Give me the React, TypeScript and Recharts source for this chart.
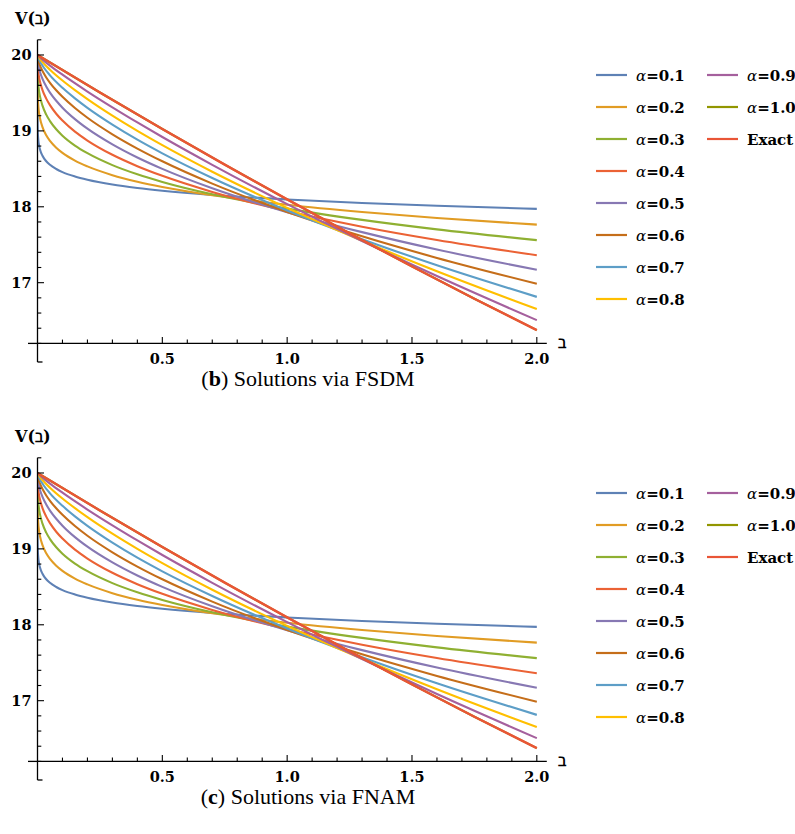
import React from 'react';
import { LineChart, Line, XAxis, YAxis, ReferenceLine, Legend } from 'recharts';

// ---- data ----
const T_A01 = [0, 0.000001, 0.0001, 0.001, 0.003, 0.006, 0.01, 0.02, 0.035, 0.05, 0.075, 0.1, 0.15, 0.2, 0.3, 0.4, 0.5, 0.7, 1.0, 1.3, 1.6, 2.0];
const V_A01 = [20, 19.485, 19.196, 18.998, 18.889, 18.813, 18.755, 18.672, 18.6, 18.553, 18.498, 18.457, 18.399, 18.356, 18.293, 18.248, 18.212, 18.156, 18.096, 18.05, 18.013, 17.973];

const T_A02 = [0, 0.000001, 0.0001, 0.001, 0.003, 0.006, 0.01, 0.02, 0.035, 0.05, 0.075, 0.1, 0.15, 0.2, 0.3, 0.4, 0.5, 0.7, 1.0, 1.3, 1.6, 2.0];
const V_A02 = [20, 19.863, 19.66, 19.467, 19.34, 19.245, 19.167, 19.049, 18.942, 18.868, 18.778, 18.71, 18.608, 18.532, 18.417, 18.331, 18.261, 18.151, 18.027, 17.931, 17.852, 17.765];

const T_A03 = [0, 0.00001, 0.0001, 0.001, 0.003, 0.006, 0.01, 0.02, 0.035, 0.05, 0.075, 0.1, 0.15, 0.2, 0.3, 0.4, 0.5, 0.7, 1.0, 1.3, 1.6, 2.0];
const V_A03 = [20, 19.93, 19.86, 19.723, 19.617, 19.53, 19.454, 19.332, 19.214, 19.129, 19.021, 18.937, 18.807, 18.706, 18.549, 18.428, 18.327, 18.164, 17.976, 17.827, 17.702, 17.561];

const T_A04 = [0, 0.0001, 0.001, 0.003, 0.006, 0.01, 0.02, 0.035, 0.05, 0.075, 0.1, 0.15, 0.2, 0.3, 0.4, 0.5, 0.7, 1.0, 1.3, 1.6, 2.0];
const V_A04 = [20, 19.944, 19.859, 19.781, 19.712, 19.648, 19.538, 19.425, 19.339, 19.226, 19.136, 18.99, 18.873, 18.685, 18.535, 18.408, 18.196, 17.944, 17.738, 17.563, 17.362];

const T_A05 = [0, 0.001, 0.003, 0.006, 0.01, 0.02, 0.035, 0.05, 0.075, 0.1, 0.15, 0.2, 0.3, 0.4, 0.5, 0.7, 1.0, 1.3, 1.6, 2.0];
const V_A05 = [20, 19.929, 19.877, 19.826, 19.776, 19.685, 19.585, 19.505, 19.397, 19.306, 19.155, 19.029, 18.822, 18.649, 18.499, 18.243, 17.929, 17.666, 17.437, 17.17];

const T_A06 = [0, 0.001, 0.005, 0.01, 0.02, 0.035, 0.05, 0.075, 0.1, 0.15, 0.2, 0.3, 0.4, 0.5, 0.7, 1.0, 1.3, 1.6, 2.0];
const V_A06 = [20, 19.965, 19.907, 19.859, 19.788, 19.704, 19.634, 19.535, 19.449, 19.301, 19.173, 18.955, 18.767, 18.599, 18.305, 17.932, 17.611, 17.326, 16.986];

const T_A07 = [0, 0.002, 0.01, 0.025, 0.05, 0.1, 0.15, 0.2, 0.3, 0.4, 0.5, 0.7, 1.0, 1.3, 1.6, 2.0];
const V_A07 = [20, 19.972, 19.913, 19.835, 19.732, 19.567, 19.428, 19.303, 19.082, 18.884, 18.704, 18.379, 17.951, 17.573, 17.23, 16.813];

const T_A08 = [0, 0.005, 0.02, 0.05, 0.1, 0.15, 0.2, 0.3, 0.4, 0.5, 0.7, 1.0, 1.3, 1.6, 2.0];
const V_A08 = [20, 19.969, 19.906, 19.806, 19.663, 19.536, 19.418, 19.2, 19.0, 18.812, 18.462, 17.986, 17.552, 17.15, 16.652];

const T_A09 = [0, 0.01, 0.05, 0.1, 0.2, 0.3, 0.4, 0.5, 0.7, 1.0, 1.3, 1.6, 2.0];
const V_A09 = [20, 19.967, 19.86, 19.74, 19.518, 19.31, 19.111, 18.919, 18.553, 18.035, 17.549, 17.087, 16.506];

const T_A10 = [0, 0.25, 0.5, 0.75, 1.0, 1.25, 1.5, 1.75, 2.0];
const V_A10 = [20, 19.506, 19.025, 18.555, 18.097, 17.65, 17.214, 16.789, 16.375];

const T_EXACT = [0, 0.25, 0.5, 0.75, 1.0, 1.25, 1.5, 1.75, 2.0];
const V_EXACT = [20, 19.506, 19.025, 18.555, 18.097, 17.65, 17.214, 16.789, 16.375];

const SERIES_NAMES = ['α=0.1', 'α=0.2', 'α=0.3', 'α=0.4', 'α=0.5', 'α=0.6', 'α=0.7', 'α=0.8', 'α=0.9', 'α=1.0', 'Exact'];
const SERIES_COLORS = ['#5E81B5', '#E19C24', '#8FB032', '#EB6235', '#8778B3', '#C56E1A', '#5D9EC7', '#FFBF00', '#A5609D', '#929600', '#E95536'];
const SERIES_T = [T_A01, T_A02, T_A03, T_A04, T_A05, T_A06, T_A07, T_A08, T_A09, T_A10, T_EXACT];
const SERIES_V = [V_A01, V_A02, V_A03, V_A04, V_A05, V_A06, V_A07, V_A08, V_A09, V_A10, V_EXACT];

const X_TICKS = [0.1, 0.2, 0.3, 0.4, 0.5, 0.6, 0.7, 0.8, 0.9, 1.0, 1.1, 1.2, 1.3, 1.4, 1.5, 1.6, 1.7, 1.8, 1.9, 2.0];
const X_LABELED = [0.5, 1.0, 1.5, 2.0];
const Y_TICKS = [16.2, 16.4, 16.6, 16.8, 17, 17.2, 17.4, 17.6, 17.8, 18, 18.2, 18.4, 18.6, 18.8, 19, 19.2, 19.4, 19.6, 19.8, 20, 20.2];
const Y_LABELED = [17, 18, 19, 20];

const CAPTIONS = [
  { letter: 'b', text: ' Solutions via FSDM' },
  { letter: 'c', text: ' Solutions via FNAM' },
];

const SERIES = SERIES_NAMES.map((name, i) => ({
  name,
  color: SERIES_COLORS[i],
  data: SERIES_T[i].map((t, j) => ({ t, v: SERIES_V[i][j] })),
}));

// ---- layout ----
const W = 795;
const H = 418;
const PLOT_LEFT = 37.5;
const PLOT_RIGHT = 546.8;
const PLOT_TOP = 39.8;
const PLOT_BOTTOM = 343.4;
const Y_AXIS_W = 30;
const X_AXIS_H = 30;
const TICK_FONT = 'DejaVu Serif';

const XTick = (p: any) => {
  const v = p.payload.value;
  const major = X_LABELED.some((m) => Math.abs(m - v) < 1e-6);
  return (
    <g>
      <line x1={p.x} x2={p.x} y1={p.y} y2={p.y - (major ? 6.5 : 3.8)} stroke="#000" strokeWidth={1.1} />
      {major && (
        <text x={p.x} y={p.y + 21} textAnchor="middle" fontFamily={TICK_FONT} fontWeight="bold" fontSize={14.5} fill="#000">
          {v.toFixed(1)}
        </text>
      )}
    </g>
  );
};

const YTick = (p: any) => {
  const v = p.payload.value;
  const major = Y_LABELED.some((m) => Math.abs(m - v) < 1e-6);
  return (
    <g>
      <line x1={p.x} x2={p.x + (major ? 6.5 : 3.8)} y1={p.y} y2={p.y} stroke="#000" strokeWidth={1.1} />
      {major && (
        <text x={p.x - 6} y={p.y + 5.5} textAnchor="end" fontFamily={TICK_FONT} fontWeight="bold" fontSize={14.5} fill="#000">
          {String(v)}
        </text>
      )}
    </g>
  );
};

const LegendBox = () => (
  <svg width={205} height={260} style={{ display: 'block', overflow: 'visible' }}>
    {SERIES.map((s, i) => {
      const col = i < 8 ? 0 : 1;
      const row = i < 8 ? i : i - 8;
      const cy = 15 + row * 32;
      const lx = col === 0 ? 6 : 117;
      const isAlpha = s.name.startsWith('α');
      return (
        <g key={s.name}>
          <line x1={lx} x2={lx + 31} y1={cy} y2={cy} stroke={s.color} strokeWidth={2.2} />
          <text x={lx + 40} y={cy + 5.5} fontFamily={TICK_FONT} fontWeight="bold" fontSize={15} fill="#000">
            {isAlpha ? (
              <>
                <tspan fontStyle="italic" fontWeight="normal">α</tspan>
                <tspan>{s.name.slice(1)}</tspan>
              </>
            ) : (
              s.name
            )}
          </text>
        </g>
      );
    })}
  </svg>
);

function Panel({ top, caption }: { top: number; caption: { letter: string; text: string } }) {
  return (
    <div style={{ position: 'absolute', left: 0, top, width: W, height: H }}>
      <LineChart
        width={W}
        height={H}
        margin={{ top: PLOT_TOP, right: W - PLOT_RIGHT, bottom: H - PLOT_BOTTOM - X_AXIS_H, left: PLOT_LEFT - Y_AXIS_W }}
      >
        <XAxis
          dataKey="t"
          type="number"
          domain={[0, 2.04]}
          allowDataOverflow
          ticks={X_TICKS}
          interval={0}
          height={X_AXIS_H}
          tickSize={0}
          tickMargin={0}
          tickLine={false}
          axisLine={{ stroke: '#000', strokeWidth: 1.3 }}
          tick={XTick}
        />
        <YAxis
          type="number"
          domain={[16.2, 20.2]}
          allowDataOverflow
          ticks={Y_TICKS}
          interval={0}
          width={Y_AXIS_W}
          tickSize={0}
          tickMargin={0}
          tickLine={false}
          axisLine={{ stroke: '#000', strokeWidth: 1.3 }}
          tick={YTick}
        />
        <ReferenceLine segment={[{ x: -0.038, y: 16.2 }, { x: 0, y: 16.2 }]} ifOverflow="visible" stroke="#000" strokeWidth={1.3} />
        <ReferenceLine segment={[{ x: 0, y: 16.2 }, { x: 0, y: 15.955 }]} ifOverflow="visible" stroke="#000" strokeWidth={1.3} />
        <ReferenceLine segment={[{ x: 0, y: 15.955 }, { x: 0.02, y: 15.955 }]} ifOverflow="visible" stroke="#000" strokeWidth={1.3} />
        {SERIES.map((s) => (
          <Line
            key={s.name}
            name={s.name}
            data={s.data}
            dataKey="v"
            type="monotone"
            stroke={s.color}
            strokeWidth={s.name === 'Exact' ? 2.4 : 2.1}
            dot={false}
            activeDot={false}
            isAnimationActive={false}
          />
        ))}
        <Legend
          layout="horizontal"
          verticalAlign="middle"
          align="center"
          wrapperStyle={{ position: 'absolute', left: 590, top: 60, width: 205, height: 260 }}
          content={() => <LegendBox />}
        />
      </LineChart>
      <svg
        width={W}
        height={H}
        style={{ position: 'absolute', left: 0, top: 0, pointerEvents: 'none' }}
      >
        <text x={15} y={24} fontFamily={TICK_FONT} fontWeight="bold" fontSize={16} fill="#000">
          V(ℶ)
        </text>
        <text x={558} y={348} fontFamily={TICK_FONT} fontWeight="bold" fontSize={16} fill="#000">
          ℶ
        </text>
        <text x={308} y={386} textAnchor="middle" fontFamily="Liberation Serif" fontSize={22} fill="#000">
          (<tspan fontWeight="bold">{caption.letter}</tspan>){caption.text}
        </text>
      </svg>
    </div>
  );
}

export default function App() {
  return (
    <div style={{ position: 'absolute', left: 0, top: 0, width: W, height: 834, background: '#fff', overflow: 'hidden' }}>
      <Panel top={0} caption={CAPTIONS[0]} />
      <Panel top={418} caption={CAPTIONS[1]} />
    </div>
  );
}
